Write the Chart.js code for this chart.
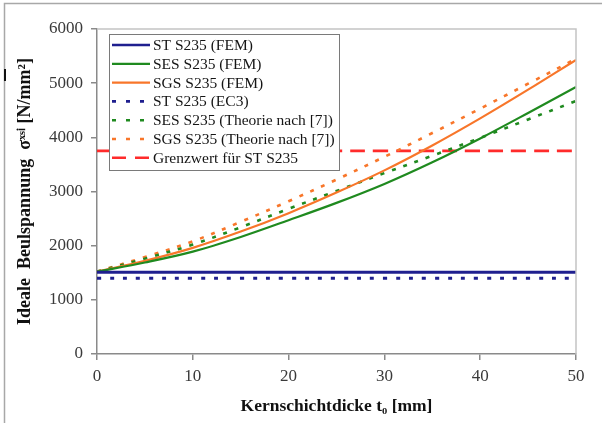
<!DOCTYPE html>
<html>
<head>
<meta charset="utf-8">
<script src="https://cdn.jsdelivr.net/npm/chart.js@4/dist/chart.umd.min.js"></script>
<style>
  html, body { margin: 0; padding: 0; background: #fff; }
  #wrap { width: 602px; height: 423px; position: relative; }
</style>
</head>
<body>
<div id="wrap"><canvas id="c" width="602" height="423"></canvas></div>
<script>
// ---- data ----
const thickness = [0, 5, 10, 15, 20, 25, 30, 35, 40, 45, 50];
const stFem     = [1510, 1510, 1510, 1510, 1510, 1510, 1510, 1510, 1510, 1510, 1510];
const sesFem    = [1520, 1690, 1890, 2160, 2470, 2790, 3140, 3540, 3980, 4450, 4930];
const sgsFem    = [1520, 1720, 1960, 2260, 2600, 2980, 3390, 3850, 4350, 4880, 5430];
const stEc3     = [1400, 1400, 1400, 1400, 1400, 1400, 1400, 1400, 1400, 1400, 1400];
const sesTheory = [1520, 1760, 2020, 2340, 2680, 3010, 3340, 3660, 3990, 4330, 4670];
const sgsTheory = [1520, 1790, 2080, 2440, 2820, 3220, 3640, 4080, 4530, 4990, 5450];
const limitSt   = [3750, 3750, 3750, 3750, 3750, 3750, 3750, 3750, 3750, 3750, 3750];
const xTicks = [0, 10, 20, 30, 40, 50];
const yTicks = [0, 1000, 2000, 3000, 4000, 5000, 6000];
const labels = [
  'ST S235 (FEM)', 'SES S235 (FEM)', 'SGS S235 (FEM)', 'ST S235 (EC3)',
  'SES S235 (Theorie nach [7])', 'SGS S235 (Theorie nach [7])', 'Grenzwert für ST S235'
];

const BLUE = '#1f1f8f', GREEN = '#1f8a1f', ORANGE = '#f8762a', RED = '#ff2b2b';
const SERIF = '"Liberation Serif", "Times New Roman", serif';

function pts(arr) { return thickness.map((t, i) => ({ x: t, y: arr[i] })); }
function ds(label, arr, color, width, dash) {
  return {
    label, data: pts(arr), borderColor: color, backgroundColor: color,
    borderWidth: width, borderDash: dash, pointRadius: 0, fill: false,
    tension: 0.35, borderCapStyle: 'butt'
  };
}

const datasets = [
  ds(labels[0], stFem, BLUE, 3, []),
  ds(labels[1], sesFem, GREEN, 2.2, []),
  ds(labels[2], sgsFem, ORANGE, 2.2, []),
  ds(labels[3], stEc3, BLUE, 3, [4, 9]),
  ds(labels[4], sesTheory, GREEN, 2.6, [4, 8]),
  ds(labels[5], sgsTheory, ORANGE, 2.6, [4, 8]),
  ds(labels[6], limitSt, RED, 2.6, [15, 8]),
];

const decor = {
  id: 'decor',
  beforeDraw(chart) {
    const ctx = chart.ctx;
    ctx.save();
    ctx.fillStyle = '#fff';
    ctx.fillRect(0, 0, chart.width, chart.height);
    ctx.strokeStyle = '#a8a8a8';
    ctx.lineWidth = 1.5;
    ctx.beginPath();
    ctx.moveTo(4.5, chart.height);
    ctx.lineTo(4.5, 3.5);
    ctx.lineTo(chart.width, 3.5);
    ctx.stroke();
    ctx.fillStyle = '#111';
    ctx.fillRect(4, 69, 2, 12);
    ctx.restore();
  },
  afterDraw(chart) {
    const ctx = chart.ctx, a = chart.chartArea;
    ctx.save();
    ctx.strokeStyle = '#c4c4c4';
    ctx.lineWidth = 1.5;
    ctx.beginPath();
    ctx.moveTo(a.left, a.top);
    ctx.lineTo(a.right, a.top);
    ctx.lineTo(a.right, a.bottom);
    ctx.stroke();
    ctx.restore();
  },
  afterDatasetsDraw(chart) {
    const ctx = chart.ctx;
    const bx = 109.5, by = 34.5, bw = 230, bh = 136;
    ctx.save();
    ctx.fillStyle = '#fff';
    ctx.fillRect(bx, by, bw, bh);
    ctx.strokeStyle = '#7a7a7a';
    ctx.lineWidth = 1;
    ctx.strokeRect(bx, by, bw, bh);
    ctx.font = '15.5px ' + SERIF;
    ctx.textBaseline = 'middle';
    ctx.textAlign = 'left';
    chart.data.datasets.forEach((d, i) => {
      const y = 45 + i * 18.8;
      ctx.strokeStyle = d.borderColor;
      ctx.lineWidth = Math.min(d.borderWidth, 2.6);
      ctx.setLineDash(d.borderDash && d.borderDash.length ? (i === 6 ? [14, 9] : [4, 10]) : []);
      ctx.beginPath();
      ctx.moveTo(112, y);
      ctx.lineTo(150, y);
      ctx.stroke();
      ctx.setLineDash([]);
      ctx.fillStyle = '#151515';
      ctx.fillText(d.label, 153, y + 1);
    });
    ctx.restore();
  }
};

new Chart(document.getElementById('c'), {
  type: 'line',
  data: { datasets },
  options: {
    responsive: false,
    animation: false,
    devicePixelRatio: 1,
    layout: { padding: { left: 0, right: 26, top: 29, bottom: 0 } },
    plugins: { legend: { display: false }, tooltip: { enabled: false } },
    scales: {
      x: {
        type: 'linear', min: 0, max: 50,
        afterBuildTicks: s => { s.ticks = xTicks.map(v => ({ value: v })); },
        afterFit: s => { s.height = 69; },
        border: { display: true, color: '#8a8a8a', width: 1.5 },
        grid: { display: true, drawOnChartArea: false, drawTicks: true, tickLength: 6, color: '#8a8a8a', lineWidth: 1.5 },
        ticks: { padding: 6, color: '#3a3a3a', font: { family: SERIF, size: 17 }, maxRotation: 0, callback: v => String(v) },
        title: {
          display: true, text: 'Kernschichtdicke t₀ [mm]', color: '#111',
          font: { family: SERIF, size: 17.5, weight: 'bold' }, padding: { top: 0, bottom: 6 }
        }
      },
      y: {
        type: 'linear', min: 0, max: 6000,
        afterBuildTicks: s => { s.ticks = yTicks.map(v => ({ value: v })); },
        afterFit: s => { s.width = 97; },
        border: { display: true, color: '#8a8a8a', width: 1.5 },
        grid: { display: true, drawOnChartArea: false, drawTicks: true, tickLength: 6, color: '#8a8a8a', lineWidth: 1.5 },
        ticks: { padding: 8, color: '#3a3a3a', font: { family: SERIF, size: 17 }, callback: v => String(v) },
        title: {
          display: true, text: 'Ideale  Beulspannung  σˣˢⁱ [N/mm²]', color: '#111',
          font: { family: SERIF, size: 18, weight: 'bold' }, padding: { top: 15, bottom: 0 }
        }
      }
    }
  },
  plugins: [decor]
});
</script>
</body>
</html>
